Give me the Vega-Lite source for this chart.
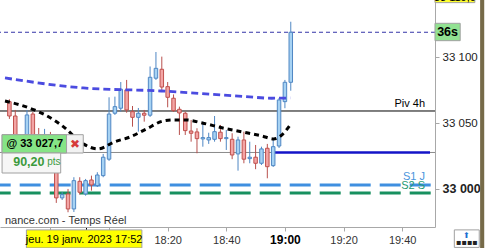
{
  "$schema": "https://vega.github.io/schema/vega-lite/v6.json",
  "width": 435,
  "height": 227,
  "autosize": {"type": "none"},
  "padding": {"left": 0, "top": 0, "right": 54, "bottom": 21},
  "background": "white",
  "config": {"view": {"stroke": null}, "font": "Liberation Sans"},
  "resolve": {"axis": {"x": "independent", "y": "independent"}},
  "datasets": {
    "candles": [
      {"t": 1046, "o": 33066.3, "h": 33068.1, "l": 33053.2, "c": 33055.4},
      {"t": 1048, "o": 33055.4, "h": 33060.0, "l": 33033.4, "c": 33037.2},
      {"t": 1050, "o": 33037.2, "h": 33039.5, "l": 33025.8, "c": 33029.6},
      {"t": 1052, "o": 33031.1, "h": 33060.0, "l": 33028.1, "c": 33056.2},
      {"t": 1054, "o": 33056.9, "h": 33058.5, "l": 33037.2, "c": 33040.2},
      {"t": 1056, "o": 33040.2, "h": 33046.3, "l": 33025.1, "c": 33029.6},
      {"t": 1058, "o": 33029.6, "h": 33045.6, "l": 33027.3, "c": 33041.0},
      {"t": 1060, "o": 33041.0, "h": 33043.3, "l": 33014.4, "c": 33018.2},
      {"t": 1062, "o": 33015.9, "h": 33019.7, "l": 32989.4, "c": 32993.2},
      {"t": 1064, "o": 32993.2, "h": 32997.7, "l": 32991.6, "c": 32995.7},
      {"t": 1066, "o": 32996.2, "h": 33000.0, "l": 32982.3, "c": 32984.8},
      {"t": 1068, "o": 32984.8, "h": 33008.9, "l": 32982.5, "c": 33006.3},
      {"t": 1070, "o": 33005.8, "h": 33008.9, "l": 32995.7, "c": 32997.5},
      {"t": 1072, "o": 32996.2, "h": 33007.6, "l": 32994.9, "c": 33006.3},
      {"t": 1074, "o": 33006.8, "h": 33010.1, "l": 32998.7, "c": 33003.0},
      {"t": 1076, "o": 33002.5, "h": 33012.7, "l": 33001.5, "c": 33010.6},
      {"t": 1078, "o": 33010.1, "h": 33026.6, "l": 33008.9, "c": 33024.1},
      {"t": 1080, "o": 33022.6, "h": 33069.6, "l": 33021.3, "c": 33056.9},
      {"t": 1082, "o": 33057.5, "h": 33070.1, "l": 33056.2, "c": 33062.5},
      {"t": 1084, "o": 33061.3, "h": 33081.2, "l": 33058.7, "c": 33075.7},
      {"t": 1086, "o": 33075.2, "h": 33082.8, "l": 33057.9, "c": 33060.0},
      {"t": 1088, "o": 33058.7, "h": 33063.0, "l": 33047.3, "c": 33054.4},
      {"t": 1090, "o": 33054.4, "h": 33061.5, "l": 33043.5, "c": 33057.5},
      {"t": 1092, "o": 33057.5, "h": 33060.0, "l": 33051.1, "c": 33056.0},
      {"t": 1094, "o": 33056.0, "h": 33093.0, "l": 33054.7, "c": 33084.8},
      {"t": 1096, "o": 33084.1, "h": 33104.0, "l": 33082.8, "c": 33091.6},
      {"t": 1098, "o": 33090.9, "h": 33100.5, "l": 33075.2, "c": 33077.4},
      {"t": 1100, "o": 33077.7, "h": 33081.2, "l": 33062.0, "c": 33069.6},
      {"t": 1102, "o": 33068.9, "h": 33071.8, "l": 33058.5, "c": 33059.5},
      {"t": 1104, "o": 33060.5, "h": 33062.5, "l": 33041.0, "c": 33057.7},
      {"t": 1106, "o": 33057.5, "h": 33058.7, "l": 33041.0, "c": 33044.3},
      {"t": 1108, "o": 33044.0, "h": 33052.4, "l": 33035.9, "c": 33042.3},
      {"t": 1110, "o": 33043.3, "h": 33046.1, "l": 33027.1, "c": 33038.2},
      {"t": 1112, "o": 33038.0, "h": 33051.1, "l": 33032.1, "c": 33039.0},
      {"t": 1114, "o": 33037.2, "h": 33042.7, "l": 33034.2, "c": 33039.0},
      {"t": 1116, "o": 33037.7, "h": 33055.4, "l": 33035.9, "c": 33043.5},
      {"t": 1118, "o": 33043.1, "h": 33048.6, "l": 33035.9, "c": 33038.2},
      {"t": 1120, "o": 33038.2, "h": 33044.8, "l": 33029.6, "c": 33039.0},
      {"t": 1122, "o": 33037.7, "h": 33042.3, "l": 33022.6, "c": 33025.8},
      {"t": 1124, "o": 33026.6, "h": 33039.7, "l": 33013.9, "c": 33037.2},
      {"t": 1126, "o": 33037.2, "h": 33043.5, "l": 33019.5, "c": 33022.6},
      {"t": 1128, "o": 33023.0, "h": 33035.9, "l": 33019.5, "c": 33024.1},
      {"t": 1130, "o": 33024.1, "h": 33033.4, "l": 33015.0, "c": 33019.5},
      {"t": 1132, "o": 33019.5, "h": 33032.1, "l": 33018.2, "c": 33030.4},
      {"t": 1134, "o": 33030.9, "h": 33034.2, "l": 33008.1, "c": 33016.9},
      {"t": 1136, "o": 33017.7, "h": 33037.2, "l": 33016.7, "c": 33032.1},
      {"t": 1138, "o": 33032.6, "h": 33069.1, "l": 33031.1, "c": 33067.6},
      {"t": 1140, "o": 33066.3, "h": 33082.8, "l": 33061.3, "c": 33081.0},
      {"t": 1142, "o": 33081.0, "h": 33127.0, "l": 33074.6, "c": 33119.0}
    ],
    "maBlue": [
      {"t": 1044.5, "v": 33084.3},
      {"t": 1071.2, "v": 33076.7},
      {"t": 1097.8, "v": 33074.4},
      {"t": 1126.2, "v": 33070.2},
      {"t": 1135.5, "v": 33068.9},
      {"t": 1141.8, "v": 33069.1}
    ],
    "maBlack": [
      {"t": 1044.5, "v": 33066.8},
      {"t": 1054.5, "v": 33060.0},
      {"t": 1061.2, "v": 33052.4},
      {"t": 1064.5, "v": 33047.1},
      {"t": 1071.2, "v": 33034.2},
      {"t": 1076.2, "v": 33030.4},
      {"t": 1081.8, "v": 33035.7},
      {"t": 1087.2, "v": 33039.5},
      {"t": 1092.8, "v": 33045.6},
      {"t": 1098.5, "v": 33051.6},
      {"t": 1102.2, "v": 33052.4},
      {"t": 1106.2, "v": 33052.4},
      {"t": 1111.8, "v": 33050.1},
      {"t": 1118.8, "v": 33046.3},
      {"t": 1125.5, "v": 33043.3},
      {"t": 1132.2, "v": 33040.2},
      {"t": 1136.2, "v": 33038.0},
      {"t": 1138.5, "v": 33040.2},
      {"t": 1141.8, "v": 33048.6}
    ]
  },
  "layer": [
    {
      "mark": {"type": "rule", "color": "#f6c08a", "strokeWidth": 1},
      "encoding": {
        "x": {"datum": 1072, "type": "quantitative", "scale": {"domain": [1044.5, 1189.5], "nice": false, "zero": false}, "axis": null}
      }
    },
    {
      "data": {"values": [{"level": "order", "p": 33027.7}]},
      "mark": {"type": "rule", "color": "#8a8a8a", "strokeWidth": 1},
      "encoding": {
        "y": {"field": "p", "type": "quantitative", "scale": {"domain": [32971.1, 33143.5], "nice": false, "zero": false}, "axis": null}
      }
    },
    {
      "data": {"values": [{"level": "Piv 4h", "p": 33059.2}]},
      "mark": {"type": "rule", "color": "#000000", "strokeWidth": 1},
      "encoding": {
        "y": {"field": "p", "type": "quantitative", "scale": {"domain": [32971.1, 33143.5], "nice": false, "zero": false}, "axis": null}
      }
    },
    {
      "data": {"values": [{"level": "S1 J", "p": 33003.0}]},
      "mark": {"type": "rule", "color": "#3f8fe0", "strokeWidth": 3, "strokeDash": [21, 9], "strokeDashOffset": 25.7},
      "encoding": {
        "y": {"field": "p", "type": "quantitative", "scale": {"domain": [32971.1, 33143.5], "nice": false, "zero": false}, "axis": null}
      }
    },
    {
      "data": {"values": [{"level": "S2 S", "p": 32997.0}]},
      "mark": {"type": "rule", "color": "#17905f", "strokeWidth": 3, "strokeDash": [21, 9], "strokeDashOffset": 25.7},
      "encoding": {
        "y": {"field": "p", "type": "quantitative", "scale": {"domain": [32971.1, 33143.5], "nice": false, "zero": false}, "axis": null}
      }
    },
    {
      "data": {"values": [{"level": "last", "p": 33119.0}]},
      "mark": {"type": "rule", "color": "#3535a8", "strokeWidth": 1, "strokeDash": [4, 3]},
      "encoding": {
        "y": {"field": "p", "type": "quantitative", "scale": {"domain": [32971.1, 33143.5], "nice": false, "zero": false}, "axis": null}
      }
    },
    {
      "data": {"values": [{"t1": 1136.2, "t2": 1189.5, "p": 33027.7}]},
      "mark": {"type": "rule", "color": "#1414c8", "strokeWidth": 2.5},
      "encoding": {
        "x": {"field": "t1", "type": "quantitative", "scale": {"domain": [1044.5, 1189.5], "nice": false, "zero": false}, "axis": null},
        "x2": {"field": "t2"},
        "y": {"field": "p", "type": "quantitative", "scale": {"domain": [32971.1, 33143.5], "nice": false, "zero": false}, "axis": null}
      }
    },
    {
      "data": {"name": "candles"},
      "mark": {"type": "rule", "strokeWidth": 1},
      "encoding": {
        "x": {
          "field": "t", "type": "quantitative",
          "scale": {"domain": [1044.5, 1189.5], "nice": false, "zero": false},
          "axis": {
            "orient": "bottom", "title": null, "grid": false,
            "values": [1060, 1072, 1080, 1100, 1120, 1140, 1160, 1180],
            "domainColor": "#a8a8a8",
            "tickColor": {"condition": {"test": "datum.value == 1072", "value": "#000000"}, "value": "#a8a8a8"},
            "tickSize": 4,
            "labelExpr": "datum.value >= 1100 ? floor(datum.value / 60) + ':' + (datum.value % 60 < 10 ? '0' : '') + (datum.value % 60) : ''",
            "labelFont": "Liberation Sans",
            "labelFontSize": {"condition": {"test": "datum.value == 1140", "value": 12}, "value": 11},
            "labelFontWeight": {"condition": {"test": "datum.value == 1140", "value": "bold"}, "value": "normal"},
            "labelColor": {"condition": {"test": "datum.value == 1140", "value": "#000000"}, "value": "#333333"},
            "labelPadding": 3,
            "labelFlush": false,
            "labelOverlap": false
          }
        },
        "y": {
          "field": "l", "type": "quantitative",
          "scale": {"domain": [32971.1, 33143.5], "nice": false, "zero": false},
          "axis": {
            "orient": "right", "title": null, "grid": false,
            "values": [33000, 33050, 33100],
            "domainColor": "#a8a8a8",
            "tickColor": "#a8a8a8",
            "tickSize": 4,
            "labelPadding": 3,
            "labelExpr": "replace(format(datum.value, ','), ',', ' ')",
            "labelFont": "Liberation Sans",
            "labelFontSize": {"condition": {"test": "datum.value == 33000", "value": 12.5}, "value": 11.5},
            "labelFontWeight": {"condition": {"test": "datum.value == 33000", "value": "bold"}, "value": "normal"},
            "labelColor": "#222222",
            "labelOverlap": false
          }
        },
        "y2": {"field": "h"},
        "color": {"condition": {"test": "datum.c >= datum.o", "value": "#4f87c4"}, "value": "#b8504d"}
      }
    },
    {
      "data": {"name": "candles"},
      "mark": {"type": "bar", "size": 3.5, "strokeWidth": 1},
      "encoding": {
        "x": {"field": "t", "type": "quantitative", "scale": {"domain": [1044.5, 1189.5], "nice": false, "zero": false}, "axis": null},
        "y": {"field": "o", "type": "quantitative", "scale": {"domain": [32971.1, 33143.5], "nice": false, "zero": false}, "axis": null},
        "y2": {"field": "c"},
        "fill": {"condition": {"test": "datum.c >= datum.o", "value": "#a6d2f3"}, "value": "#f3a5a5"},
        "stroke": {"condition": {"test": "datum.c >= datum.o", "value": "#4f87c4"}, "value": "#c0504d"}
      }
    },
    {
      "data": {"name": "maBlue"},
      "mark": {"type": "line", "color": "#4b4be0", "strokeWidth": 2.8, "strokeDash": [7, 4], "interpolate": "monotone"},
      "encoding": {
        "x": {"field": "t", "type": "quantitative", "scale": {"domain": [1044.5, 1189.5], "nice": false, "zero": false}, "axis": null},
        "y": {"field": "v", "type": "quantitative", "scale": {"domain": [32971.1, 33143.5], "nice": false, "zero": false}, "axis": null}
      }
    },
    {
      "data": {"name": "maBlack"},
      "mark": {"type": "line", "color": "#000000", "strokeWidth": 3, "strokeDash": [5, 4], "interpolate": "monotone"},
      "encoding": {
        "x": {"field": "t", "type": "quantitative", "scale": {"domain": [1044.5, 1189.5], "nice": false, "zero": false}, "axis": null},
        "y": {"field": "v", "type": "quantitative", "scale": {"domain": [32971.1, 33143.5], "nice": false, "zero": false}, "axis": null}
      }
    },
    {
      "data": {"values": [
        {"label": "Piv 4h", "t": 1187.8, "p": 33064.2, "col": "piv"},
        {"label": "S1 J", "t": 1187.8, "p": 33009.1, "col": "s1"},
        {"label": "S2 S", "t": 1187.8, "p": 33002.3, "col": "s2"}
      ]},
      "mark": {"type": "text", "align": "right", "baseline": "middle", "font": "Liberation Sans", "fontSize": 11},
      "encoding": {
        "x": {"field": "t", "type": "quantitative", "scale": {"domain": [1044.5, 1189.5], "nice": false, "zero": false}, "axis": null},
        "y": {"field": "p", "type": "quantitative", "scale": {"domain": [32971.1, 33143.5], "nice": false, "zero": false}, "axis": null},
        "text": {"field": "label"},
        "color": {"field": "col", "type": "nominal", "scale": {"domain": ["piv", "s1", "s2"], "range": ["#000000", "#4a94dc", "#1f9a72"]}, "legend": null}
      }
    },
    {
      "data": {"values": [
        {"box": "order", "t1": 1043.5, "t2": 1071.2, "p1": 33041.2, "p2": 33027.3, "fill": "#f2f2f2"},
        {"box": "orderPrice", "t1": 1043.5, "t2": 1065.5, "p1": 33041.2, "p2": 33027.3, "fill": "#86e486"},
        {"box": "gain", "t1": 1043.5, "t2": 1063.5, "p1": 33027.3, "p2": 33012.1, "fill": "#f6f6f6"},
        {"box": "date", "t1": 1051.8, "t2": 1091.2, "p1": 32968.9, "p2": 32955.2, "fill": "#ffff00"},
        {"box": "timer", "t1": 1191.2, "t2": 1199.8, "p1": 33125.8, "p2": 33112.6, "fill": "#92e292"},
        {"box": "price", "t1": 1191.2, "t2": 1204.8, "p1": 33152.0, "p2": 33141.5, "fill": "#ffff30"},
        {"box": "icon", "t1": 1197.8, "t2": 1206.3, "p1": 32968.9, "p2": 32955.6, "fill": "#ffffff"}
      ]},
      "mark": {"type": "rect", "stroke": "#a0a0a0", "strokeWidth": 1},
      "encoding": {
        "x": {"field": "t1", "type": "quantitative", "scale": {"domain": [1044.5, 1189.5], "nice": false, "zero": false}, "axis": null},
        "x2": {"field": "t2"},
        "y": {"field": "p1", "type": "quantitative", "scale": {"domain": [32971.1, 33143.5], "nice": false, "zero": false}, "axis": null},
        "y2": {"field": "p2"},
        "fill": {"field": "fill", "type": "nominal", "scale": null}
      }
    },
    {
      "data": {"values": [{"edge": "frame", "t1": 1206.6, "t2": 1208.0, "p1": 33150.0, "p2": 32950.0}]},
      "mark": {"type": "rect", "color": "#766a48"},
      "encoding": {
        "x": {"field": "t1", "type": "quantitative", "scale": {"domain": [1044.5, 1189.5], "nice": false, "zero": false}, "axis": null},
        "x2": {"field": "t2"},
        "y": {"field": "p1", "type": "quantitative", "scale": {"domain": [32971.1, 33143.5], "nice": false, "zero": false}, "axis": null},
        "y2": {"field": "p2"}
      }
    },
    {
      "data": {"values": [{"label": "@ 33 027,7", "t": 1045.0, "p": 33034.2}]},
      "mark": {"type": "text", "align": "left", "baseline": "middle", "font": "Liberation Sans", "fontSize": 11, "fontWeight": "bold", "color": "#000000"},
      "encoding": {
        "x": {"field": "t", "type": "quantitative", "scale": {"domain": [1044.5, 1189.5], "nice": false, "zero": false}, "axis": null},
        "y": {"field": "p", "type": "quantitative", "scale": {"domain": [32971.1, 33143.5], "nice": false, "zero": false}, "axis": null},
        "text": {"field": "label"}
      }
    },
    {
      "data": {"values": [{"label": "nance.com - Temps Réel", "t": 1044.5, "p": 32975.3}]},
      "mark": {"type": "text", "align": "left", "baseline": "middle", "font": "Liberation Sans", "fontSize": 11, "color": "#333333"},
      "encoding": {
        "x": {"field": "t", "type": "quantitative", "scale": {"domain": [1044.5, 1189.5], "nice": false, "zero": false}, "axis": null},
        "y": {"field": "p", "type": "quantitative", "scale": {"domain": [32971.1, 33143.5], "nice": false, "zero": false}, "axis": null},
        "text": {"field": "label"}
      }
    },
    {
      "data": {"values": [{"label": "jeu. 19 janv. 2023 17:52", "t": 1071.5, "p": 32961.3}]},
      "mark": {"type": "text", "align": "center", "baseline": "middle", "font": "Liberation Sans", "fontSize": 11, "color": "#000000"},
      "encoding": {
        "x": {"field": "t", "type": "quantitative", "scale": {"domain": [1044.5, 1189.5], "nice": false, "zero": false}, "axis": null},
        "y": {"field": "p", "type": "quantitative", "scale": {"domain": [32971.1, 33143.5], "nice": false, "zero": false}, "axis": null},
        "text": {"field": "label"}
      }
    },
    {
      "data": {"values": [{"label": "90,20", "t": 1047.3, "p": 33020.8}]},
      "mark": {"type": "text", "align": "left", "baseline": "middle", "font": "Liberation Sans", "fontSize": 12.5, "fontWeight": "bold", "color": "#3c9a3c"},
      "encoding": {
        "x": {"field": "t", "type": "quantitative", "scale": {"domain": [1044.5, 1189.5], "nice": false, "zero": false}, "axis": null},
        "y": {"field": "p", "type": "quantitative", "scale": {"domain": [32971.1, 33143.5], "nice": false, "zero": false}, "axis": null},
        "text": {"field": "label"}
      }
    },
    {
      "data": {"values": [{"label": "pts", "t": 1058.9, "p": 33020.3}]},
      "mark": {"type": "text", "align": "left", "baseline": "middle", "font": "Liberation Sans", "fontSize": 10, "color": "#3c9a3c"},
      "encoding": {
        "x": {"field": "t", "type": "quantitative", "scale": {"domain": [1044.5, 1189.5], "nice": false, "zero": false}, "axis": null},
        "y": {"field": "p", "type": "quantitative", "scale": {"domain": [32971.1, 33143.5], "nice": false, "zero": false}, "axis": null},
        "text": {"field": "label"}
      }
    },
    {
      "data": {"values": [{"label": "✖", "t": 1068.4, "p": 33034.5}]},
      "mark": {"type": "text", "align": "center", "baseline": "middle", "font": "DejaVu Sans", "fontSize": 12, "color": "#d63a3a"},
      "encoding": {
        "x": {"field": "t", "type": "quantitative", "scale": {"domain": [1044.5, 1189.5], "nice": false, "zero": false}, "axis": null},
        "y": {"field": "p", "type": "quantitative", "scale": {"domain": [32971.1, 33143.5], "nice": false, "zero": false}, "axis": null},
        "text": {"field": "label"}
      }
    },
    {
      "data": {"values": [{"label": "36s", "t": 1195.5, "p": 33119.2}]},
      "mark": {"type": "text", "align": "center", "baseline": "middle", "font": "Liberation Sans", "fontSize": 12.5, "fontWeight": "bold", "color": "#000000"},
      "encoding": {
        "x": {"field": "t", "type": "quantitative", "scale": {"domain": [1044.5, 1189.5], "nice": false, "zero": false}, "axis": null},
        "y": {"field": "p", "type": "quantitative", "scale": {"domain": [32971.1, 33143.5], "nice": false, "zero": false}, "axis": null},
        "text": {"field": "label"}
      }
    },
    {
      "data": {"values": [{"label": "33 119,0", "t": 1198.0, "p": 33142.6}]},
      "mark": {"type": "text", "align": "center", "baseline": "alphabetic", "font": "Liberation Sans", "fontSize": 11, "color": "#000000"},
      "encoding": {
        "x": {"field": "t", "type": "quantitative", "scale": {"domain": [1044.5, 1189.5], "nice": false, "zero": false}, "axis": null},
        "y": {"field": "p", "type": "quantitative", "scale": {"domain": [32971.1, 33143.5], "nice": false, "zero": false}, "axis": null},
        "text": {"field": "label"}
      }
    },
    {
      "data": {"values": [{"label": "⬆", "t": 1202.0, "p": 32964.6}]},
      "mark": {"type": "text", "align": "center", "baseline": "middle", "font": "DejaVu Sans", "fontSize": 8, "color": "#1f6fd0"},
      "encoding": {
        "x": {"field": "t", "type": "quantitative", "scale": {"domain": [1044.5, 1189.5], "nice": false, "zero": false}, "axis": null},
        "y": {"field": "p", "type": "quantitative", "scale": {"domain": [32971.1, 33143.5], "nice": false, "zero": false}, "axis": null},
        "text": {"field": "label"}
      }
    },
    {
      "data": {"values": [{"label": "▪▪▪▪", "t": 1202.0, "p": 32959.2}]},
      "mark": {"type": "text", "align": "center", "baseline": "middle", "font": "DejaVu Sans", "fontSize": 8, "color": "#222222"},
      "encoding": {
        "x": {"field": "t", "type": "quantitative", "scale": {"domain": [1044.5, 1189.5], "nice": false, "zero": false}, "axis": null},
        "y": {"field": "p", "type": "quantitative", "scale": {"domain": [32971.1, 33143.5], "nice": false, "zero": false}, "axis": null},
        "text": {"field": "label"}
      }
    }
  ]
}
